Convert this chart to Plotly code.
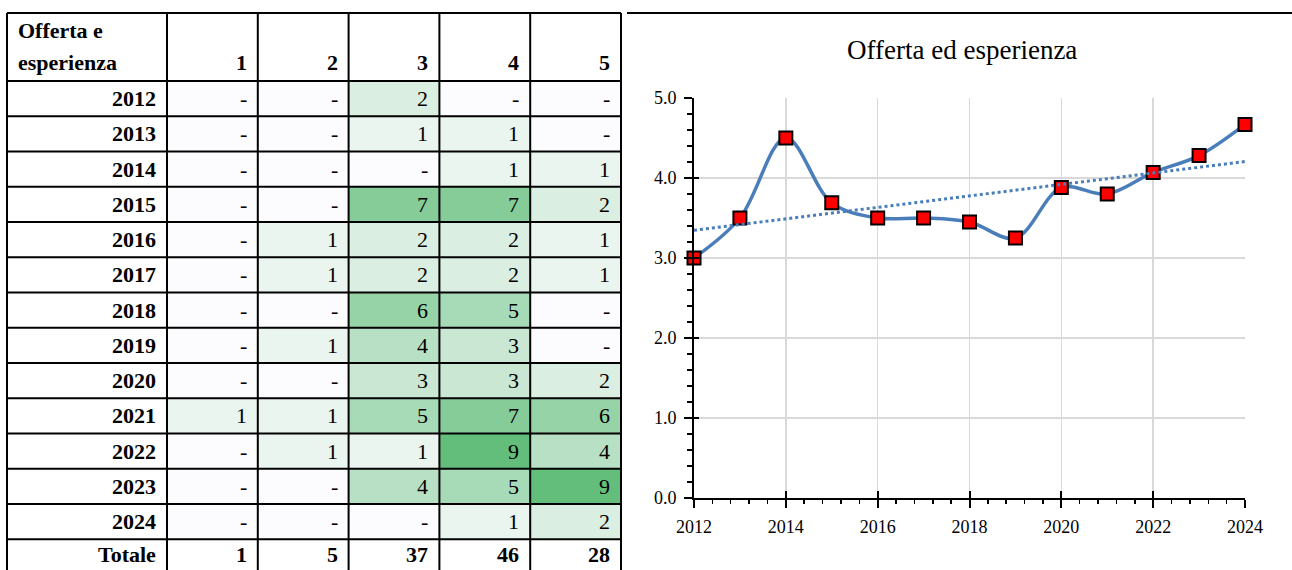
import numpy as np
import plotly.graph_objects as go

# ---------------- data ----------------
years = [2012, 2013, 2014, 2015, 2016, 2017, 2018, 2019, 2020, 2021, 2022, 2023, 2024]
score_labels = ["1", "2", "3", "4", "5"]
count_1 = [0, 0, 0, 0, 0, 0, 0, 0, 0, 1, 0, 0, 0]
count_2 = [0, 0, 0, 0, 1, 1, 0, 1, 0, 1, 1, 0, 0]
count_3 = [2, 1, 0, 7, 2, 2, 6, 4, 3, 5, 1, 4, 0]
count_4 = [0, 1, 1, 7, 2, 2, 5, 3, 3, 7, 9, 5, 1]
count_5 = [0, 0, 1, 2, 1, 1, 0, 0, 2, 6, 4, 9, 2]
mean_score = [3.00, 3.50, 4.50, 3.69, 3.50, 3.50, 3.45, 3.25, 3.88, 3.80, 4.07, 4.28, 4.67]
table_header = ["Offerta e", "esperienza"]
total_label = "Totale"
chart_title = "Offerta ed esperienza"
x_ticks = [2012, 2014, 2016, 2018, 2020, 2022, 2024]

# ---------------- layout constants ----------------
W, H = 1292, 570
FONT = "Liberation Serif"
TAB_FS = 22
tab_left, tab_right = 7, 621
tab_top = 13
head_h = 68
row_h = 35.25
lab_w = 160
col_w = (tab_right - tab_left - lab_w) / 5
pad = 3

counts = [count_1, count_2, count_3, count_4, count_5]
z = [[counts[c][r] for c in range(5)] for r in range(len(years))]
totals = [sum(c) for c in counts]

lab_units = lab_w / col_w
head_units = head_h / row_h
nrows = len(years)

x_rng = [-lab_units - pad / col_w, 5 + pad / col_w]
x_dom = [(tab_left - pad) / W, (tab_right + pad) / W]
y_top = -head_units - pad / row_h
y_bot = nrows + (H - (tab_top + head_h + nrows * row_h)) / row_h
y_dom = [0, 1 - (tab_top - pad) / H]

fig = go.Figure()

# cell colours (Excel 2-colour scale)
fig.add_trace(go.Heatmap(
    z=z,
    x=[c + 0.5 for c in range(5)],
    y=[r + 0.5 for r in range(nrows)],
    zmin=0, zmax=9,
    colorscale=[[0, "#FCFCFF"], [1, "#63BE7B"]],
    showscale=False, hoverinfo="skip",
    xaxis="x2", yaxis="y2",
))

shapes = []
hlines = [-head_units] + list(range(0, nrows + 2))
for yv in hlines:
    shapes.append(dict(type="line", xref="x2", yref="y2", x0=-lab_units, x1=5,
                       y0=yv, y1=yv, line=dict(color="black", width=2), layer="above"))
for xv in [-lab_units, 0, 1, 2, 3, 4, 5]:
    shapes.append(dict(type="line", xref="x2", yref="y2", x0=xv, x1=xv,
                       y0=-head_units, y1=nrows + 2, line=dict(color="black", width=2), layer="above"))
shapes.append(dict(type="line", xref="paper", yref="paper", x0=(tab_right + 6) / W, x1=1,
                   y0=1 - tab_top / H, y1=1 - tab_top / H, line=dict(color="black", width=2)))

annotations = []


def cell_text(txt, x, y, bold=False, anchor="right", shift=-9, yshift=0):
    if bold:
        txt = "<b>" + txt + "</b>"
    annotations.append(dict(text=txt, x=x, y=y, xref="x2", yref="y2", xanchor=anchor,
                            yanchor="middle", xshift=shift, yshift=yshift, showarrow=False,
                            font=dict(family=FONT, size=TAB_FS, color="black")))


cell_text(table_header[0], -lab_units, -head_units + (30 - tab_top) / row_h, bold=True, anchor="left", shift=9)
cell_text(table_header[1], -lab_units, -head_units + (62 - tab_top) / row_h, bold=True, anchor="left", shift=9)
for c, lab in enumerate(score_labels):
    cell_text(lab, c + 1, -head_units + (62 - tab_top) / row_h, bold=True)
for r, yr in enumerate(years):
    cell_text(str(yr), 0, r + 0.5, bold=True)
    for c in range(5):
        v = z[r][c]
        cell_text(str(v) if v else "-", c + 1, r + 0.5)
cell_text(total_label, 0, nrows + 0.5, bold=True, yshift=2)
for c in range(5):
    cell_text(str(totals[c]), c + 1, nrows + 0.5, bold=True, yshift=2)

# ---------------- chart ----------------
blue = "#4A7EBB"
fig.add_trace(go.Scatter(
    x=years, y=mean_score, mode="lines+markers",
    line=dict(color=blue, width=3.5, shape="spline", smoothing=1.0),
    marker=dict(symbol="square", size=13, color="#FF0000", line=dict(color="black", width=2)),
    cliponaxis=False, hoverinfo="skip",
))
coef = np.polyfit(years, mean_score, 1)
trend_x = [years[0], years[-1]]
trend_y = [coef[0] * x + coef[1] for x in trend_x]
fig.add_trace(go.Scatter(
    x=trend_x, y=trend_y, mode="lines",
    line=dict(color=blue, width=3, dash="dot"),
    cliponaxis=False, hoverinfo="skip",
))
# empty trace so the overlay axes (inside half of crossing ticks) get drawn
fig.add_trace(go.Scatter(x=[], y=[], xaxis="x3", yaxis="y3", hoverinfo="skip", showlegend=False))

annotations.append(dict(text=chart_title, x=962 / W, y=1 - 50 / H, xref="paper", yref="paper",
                        xanchor="center", yanchor="middle", showarrow=False,
                        font=dict(family=FONT, size=27, color="black")))

tickfont = dict(family=FONT, size=18, color="black")
plot_xdom = [694 / W, 1245 / W]
plot_ydom = [(H - 498) / H, (H - 98) / H]
fig.update_layout(
    template="none",
    width=W, height=H,
    margin=dict(l=0, r=0, t=0, b=0, pad=0, autoexpand=False),
    paper_bgcolor="white", plot_bgcolor="white",
    showlegend=False,
    shapes=shapes, annotations=annotations,
    xaxis=dict(domain=plot_xdom, range=[2012, 2024], anchor="y",
               tickmode="array", tickvals=x_ticks, ticktext=[str(t) for t in x_ticks],
               ticks="outside", ticklen=8, tickwidth=2, tickcolor="black",
               minor=dict(dtick=0.4, tick0=2012, ticks="outside", ticklen=4, tickwidth=1.5,
                          tickcolor="black", showgrid=False),
               showline=True, linecolor="black", linewidth=2,
               showgrid=True, gridcolor="#D9D9D9", gridwidth=1.5,
               zeroline=False, tickfont=tickfont, ticklabelstandoff=3,
               automargin=False, fixedrange=True),
    yaxis=dict(domain=plot_ydom, range=[0, 5], anchor="x",
               tickmode="linear", tick0=0, dtick=1, tickformat=".1f",
               ticks="outside", ticklen=8, tickwidth=2, tickcolor="black",
               minor=dict(dtick=0.2, tick0=0, ticks="outside", ticklen=5, tickwidth=1.5,
                          tickcolor="black", showgrid=False),
               showline=True, linecolor="black", linewidth=2,
               showgrid=True, gridcolor="#D9D9D9", gridwidth=1.5,
               zeroline=False, tickfont=tickfont, ticklabelstandoff=4,
               automargin=False, fixedrange=True),
    xaxis3=dict(domain=plot_xdom, range=[2012, 2024], anchor="y3", overlaying="x",
                tickmode="array", tickvals=x_ticks, showticklabels=False,
                ticks="inside", ticklen=7, tickwidth=2, tickcolor="black",
                showline=False, showgrid=False, zeroline=False, automargin=False, fixedrange=True),
    yaxis3=dict(domain=plot_ydom, range=[0, 5], anchor="x3", overlaying="y",
                tickmode="linear", tick0=0, dtick=1, showticklabels=False,
                ticks="inside", ticklen=5, tickwidth=2, tickcolor="black",
                showline=False, showgrid=False, zeroline=False, automargin=False, fixedrange=True),
    xaxis2=dict(domain=x_dom, range=x_rng, anchor="y2", visible=False, automargin=False, fixedrange=True),
    yaxis2=dict(domain=y_dom, range=[y_bot, y_top], anchor="x2", visible=False, automargin=False, fixedrange=True),
)

fig.write_html(
    "out.html",
    config={"displayModeBar": False, "staticPlot": True},
    post_script="document.body.style.margin='0px';document.body.style.overflow='hidden';",
)
